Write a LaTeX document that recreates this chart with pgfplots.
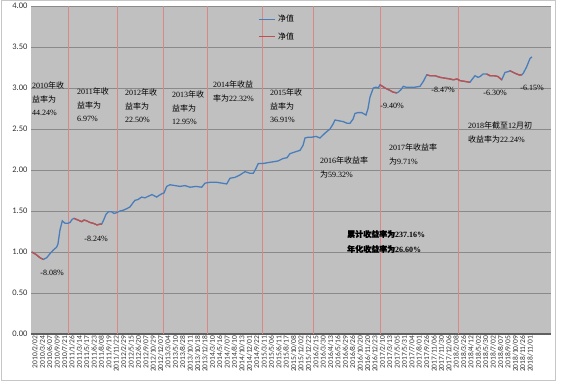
\documentclass[border=0pt]{standalone}
\usepackage{pgfplots}
\pgfplotsset{compat=1.18}
\usepackage{fontspec}
\setmainfont{Liberation Serif}
\newfontfamily\cjk{Noto Sans CJK SC}
\newfontfamily\cjkb[FakeBold=1.2]{Noto Sans CJK SC}
\newfontfamily\tickfont{Carlito}
\definecolor{bgc}{HTML}{C0C0C0}
\definecolor{bl}{HTML}{4A7EBB}
\definecolor{rd}{HTML}{C0504D}
\definecolor{gridc}{HTML}{8A8A8A}
\definecolor{yl}{HTML}{D98888}
\newcommand\ann[3]{\node[anchor=north west, align=left, inner sep=0pt, font=\fontsize{8}{13.5}\selectfont] at (#1,#2) {#3};}
\newcommand\pct[3]{\node[inner sep=0pt, font=\fontsize{8}{9}\selectfont] at (#1,#2) {#3};}
\begin{document}
\begin{tikzpicture}[x=1pt,y=1pt]
\path[use as bounding box] (0,0) rectangle (561,386);
\draw[gray!45] (1.5,5.5) rectangle (555.5,385.5);
\begin{axis}[
  at={(31pt,52pt)}, anchor=south west,
  scale only axis, width=520pt, height=328pt,
  xmin=31, xmax=551, ymin=0, ymax=4,
  axis background/.style={fill=bgc},
  axis x line=bottom, axis y line=left,
  x axis line style={draw=gray!75!black, line width=1.6pt, -},
  y axis line style={draw=none},
  major tick length=0pt,
  ytick={0,0.5,1,1.5,2,2.5,3,3.5,4},
  ymajorgrids, major grid style={gridc, line width=0.8pt},
  /pgf/number format/assume math mode=true,
  yticklabel style={/pgf/number format/.cd, fixed, fixed zerofill, precision=2, /tikz/.cd, font=\tickfont\fontsize{8.5}{10}\selectfont, text=black!80},
  xtick={35,42.39,...,531},
  xticklabels={2010/2/02,2010/3/24,2010/6/07,2010/9/09,2010/7/21,2011/1/26,2011/3/14,2011/5/17,2011/6/23,2011/8/08,2011/9/19,2011/11/22,2012/2/29,2012/5/15,2012/6/20,2012/9/07,2012/10/29,2012/12/07,2013/3/04,2013/5/10,2013/8/28,2013/10/11,2013/10/18,2013/12/18,2014/3/10,2014/5/16,2014/7/07,2014/8/10,2014/10/13,2014/12/01,2014/9/22,2015/3/11,2015/5/06,2015/6/11,2015/8/17,2015/10/08,2015/12/02,2015/12/22,2016/2/15,2016/3/30,2016/4/13,2016/5/16,2016/6/29,2016/8/26,2016/10/20,2016/11/20,2016/12/23,2017/2/10,2017/3/13,2017/5/05,2017/5/31,2017/7/04,2017/8/01,2017/9/26,2017/11/06,2017/11/30,2017/12/06,2018/2/08,2018/3/26,2018/4/12,2018/5/02,2018/5/30,2018/7/02,2018/8/07,2018/9/05,2018/10/09,2018/11/26,2018/11/01},
  x tick label style={rotate=90, anchor=east, inner sep=1.5pt, font=\tickfont\fontsize{7.5}{8}\selectfont, text=black!80},
  extra x ticks={68,117,163,207,262,313,380,458},
  extra x tick labels={},
  extra x tick style={xmajorgrids=true, major grid style={yl, line width=0.7pt}},
  legend style={at={(0.432,0.985)}, anchor=north west, draw=none, fill=none, font=\cjk\fontsize{8}{9}\selectfont, row sep=5pt, cells={anchor=west}},
  legend image code/.code={\draw[#1] (0pt,0pt) -- (16pt,0pt);},
]
\addplot[bl, line width=1.3pt] table {
x y
31.7 1.00
36 0.97
40 0.93
43.3 0.91
46.7 0.93
50 0.98
53 1.02
56.7 1.06
58 1.10
60 1.27
62.3 1.38
65 1.35
68 1.35
70 1.36
72.3 1.40
74 1.41
78 1.39
81.7 1.37
84 1.39
86.7 1.38
90 1.36
93.3 1.35
97 1.33
100 1.34
101.7 1.34
104 1.40
106 1.46
108.3 1.49
111.7 1.49
114 1.47
116.7 1.48
120 1.50
123.3 1.51
127 1.53
130 1.55
133 1.60
135 1.63
138 1.64
141.7 1.67
145 1.66
148.3 1.68
152 1.70
156.7 1.67
159 1.69
161.7 1.71
164 1.72
166.7 1.80
170 1.82
175 1.81
180 1.80
185 1.81
190 1.79
196 1.80
201.7 1.79
205 1.84
210 1.85
216.7 1.85
222 1.84
226.7 1.83
230 1.90
235 1.91
240 1.94
245 1.98
250 1.96
253.3 1.96
256 2.02
258.3 2.08
263.3 2.08
268 2.09
273 2.10
278 2.11
283 2.14
287 2.15
290 2.20
295 2.22
300 2.24
303 2.30
305 2.39
308 2.40
311.7 2.40
316 2.41
320 2.39
325 2.45
330 2.50
333 2.56
335 2.61
339 2.60
343.3 2.59
347 2.57
350 2.57
353 2.62
355 2.69
358 2.70
361.7 2.70
366 2.67
368 2.75
370 2.89
373.3 3.00
376 3.01
378.3 3.00
380 3.04
385 3.00
390 2.97
393 2.95
396.7 2.94
398.3 2.95
401 2.98
403.3 3.02
406 3.01
410 3.01
415 3.01
420 3.02
423.3 3.08
426.7 3.16
430 3.15
435 3.15
440 3.13
445 3.12
450 3.11
453.3 3.10
457 3.11
460 3.09
465 3.08
470 3.07
473 3.12
475 3.15
478 3.13
480 3.14
483 3.17
486.7 3.17
490 3.15
494 3.15
498 3.14
501.7 3.10
505 3.19
508.3 3.20
510 3.21
515 3.18
519 3.16
521.7 3.16
523.3 3.18
526.7 3.26
530 3.36
532 3.38
};
\addlegendentry{净值}
\addplot[rd, line width=1.3pt] table {
x y
31.7 1.00
36 0.97
40 0.93
43.3 0.91
};
\addlegendentry{净值}
\addplot[rd, line width=1.3pt, forget plot] table {
x y
74 1.41
78 1.39
81.7 1.37
84 1.39
86.7 1.38
90 1.36
93.3 1.35
97 1.33
100 1.34
101.7 1.34
};
\addplot[rd, line width=1.3pt, forget plot] table {
x y
380 3.04
385 3.00
390 2.97
393 2.95
396.7 2.94
};
\addplot[rd, line width=1.3pt, forget plot] table {
x y
426.7 3.16
430 3.15
435 3.15
440 3.13
445 3.12
450 3.11
453.3 3.10
457 3.11
460 3.09
465 3.08
470 3.07
};
\addplot[rd, line width=1.3pt, forget plot] table {
x y
486.7 3.17
490 3.15
494 3.15
498 3.14
501.7 3.10
};
\addplot[rd, line width=1.3pt, forget plot] table {
x y
510 3.21
515 3.18
519 3.16
521.7 3.16
};
\end{axis}
\ann{32}{304}{2010{\cjk 年收}\\{\cjk 益率为}\\44.24\%}
\ann{77}{298}{2011{\cjk 年收}\\{\cjk 益率为}\\6.97\%}
\ann{125}{297}{2012{\cjk 年收}\\{\cjk 益率为}\\22.50\%}
\ann{172}{295}{2013{\cjk 年收}\\{\cjk 益率为}\\12.95\%}
\ann{213}{305}{2014{\cjk 年收益}\\{\cjk 率为}22.32\%}
\ann{270}{297}{2015{\cjk 年收}\\{\cjk 益率为}\\36.91\%}
\ann{320}{229}{2016{\cjk 年收益率}\\{\cjk 为}59.32\%}
\ann{389}{242}{2017{\cjk 年收益率}\\{\cjk 为}9.71\%}
\ann{468}{264}{2018{\cjk 年截至}12{\cjk 月初}\\{\cjk 收益率为}22.24\%}
\node[anchor=north west, align=left, inner sep=0pt, font=\fontsize{8}{15}\selectfont\bfseries] at (347,156) {{\cjkb 累计收益率为}237.16\%\\{\cjkb 年化收益率为}26.60\%};
\pct{52}{113}{-8.08\%}
\pct{96}{147}{-8.24\%}
\pct{392}{280}{-9.40\%}
\pct{443}{296}{-8.47\%}
\pct{495}{293}{-6.30\%}
\pct{532}{298}{-6.15\%}
\end{tikzpicture}
\end{document}
